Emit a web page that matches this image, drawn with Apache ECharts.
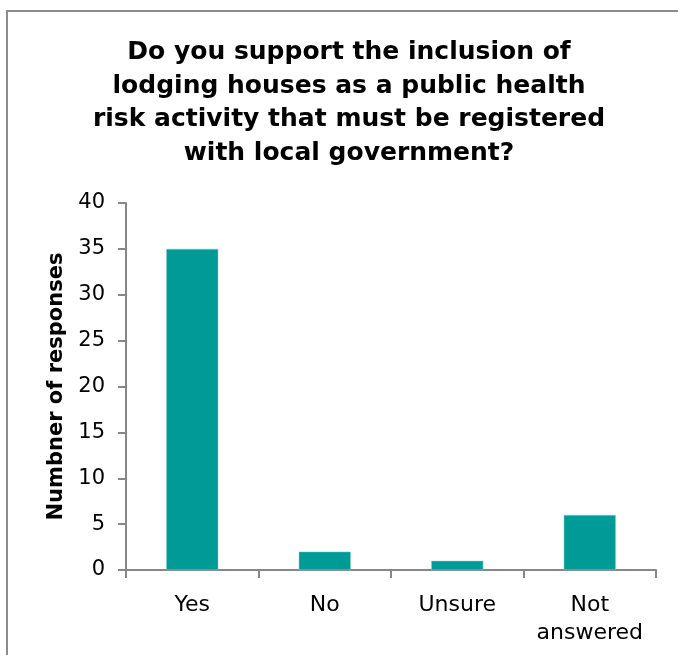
<!DOCTYPE html>
<html>
<head>
<meta charset="utf-8">
<script src="https://cdn.jsdelivr.net/npm/echarts@6/dist/echarts.min.js"></script>
<style>
html,body{margin:0;padding:0;background:#fff;}
#chart{width:678px;height:655px;}
</style>
</head>
<body>
<div id="chart"></div>
<script>
const categories = ['Yes', 'No', 'Unsure', 'Not\nanswered'];
const responses = [35, 2, 1, 6];
const yTicks = { min: 0, max: 40, interval: 5 };
const titleText = 'Do you support the inclusion of\nlodging houses as a public health\nrisk activity that must be registered\nwith local government?';
const yAxisName = 'Numbner of responses';

const chart = echarts.init(document.getElementById('chart'), null, { renderer: 'canvas' });
const axisColor = '#878787';
const font = 'DejaVu Sans';

chart.setOption({
  animation: false,
  backgroundColor: '#ffffff',
  graphic: [
    {
      type: 'rect',
      shape: { x: 7, y: 11, width: 700, height: 700 },
      style: { fill: 'none', stroke: '#8c8c8c', lineWidth: 2 },
      z: 0
    },
    {
      type: 'text',
      x: 349,
      y: 36,
      style: {
        text: titleText,
        fontFamily: font,
        fontWeight: 'bold',
        fontSize: 25,
        lineHeight: 33.5,
        fill: '#000',
        textAlign: 'center',
        textVerticalAlign: 'top'
      }
    }
  ],
  grid: { left: 126, right: 22, top: 203, bottom: 85, containLabel: false },
  xAxis: {
    type: 'category',
    data: categories,
    axisLine: { lineStyle: { color: axisColor, width: 2 } },
    axisTick: { show: true, length: 8, lineStyle: { color: axisColor, width: 2 } },
    axisLabel: { color: '#000', fontFamily: font, fontSize: 22, lineHeight: 28, margin: 21, interval: 0 }
  },
  yAxis: {
    type: 'value',
    min: yTicks.min,
    max: yTicks.max,
    interval: yTicks.interval,
    name: yAxisName,
    nameLocation: 'middle',
    nameGap: 58,
    nameTextStyle: { color: '#000', fontFamily: font, fontWeight: 'bold', fontSize: 21 },
    axisLine: { show: true, lineStyle: { color: axisColor, width: 2 } },
    axisTick: { show: true, length: 8, lineStyle: { color: axisColor, width: 2 } },
    splitLine: { show: false },
    axisLabel: { color: '#000', fontFamily: font, fontSize: 21, margin: 21 }
  },
  series: [{
    type: 'bar',
    data: responses,
    barWidth: 52,
    itemStyle: { color: '#009a97', borderColor: '#7fd0cc', borderWidth: 0.5 }
  }]
});
</script>
</body>
</html>
